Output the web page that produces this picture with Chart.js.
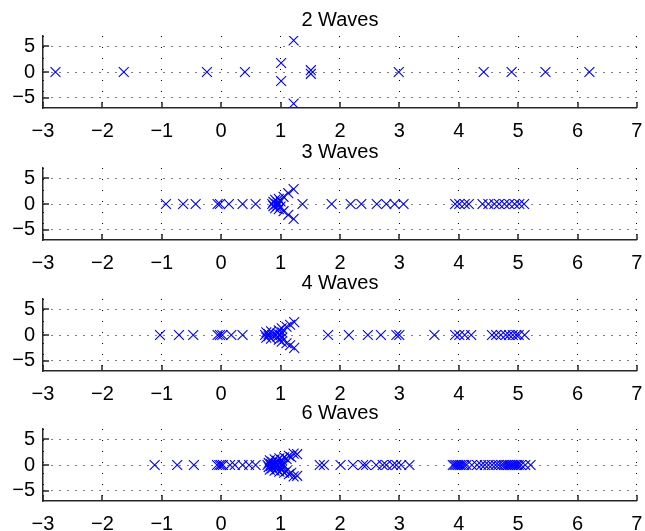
<!DOCTYPE html>
<html>
<head>
<meta charset="utf-8">
<script src="https://cdn.jsdelivr.net/npm/chart.js@4.4.0/dist/chart.umd.min.js"></script>
<style>
  html, body { margin: 0; padding: 0; background: #fff; }
  #fig { position: relative; width: 645px; height: 531px; overflow: hidden; }
  #fig canvas { position: absolute; left: 0; }
</style>
</head>
<body>
<div id="fig"></div>
<script>
// Axis ticks shared by every panel
const xTicks = [-3, -2, -1, 0, 1, 2, 3, 4, 5, 6, 7];
const yTicks = [-5, 0, 5];
const panelTitles = ['2 Waves', '3 Waves', '4 Waves', '6 Waves'];

// Roots for each case: real part (x) and imaginary part (y)
const waves2Re = [-2.79, -1.64, -0.24, 0.40, 1.01, 1.01, 1.22, 1.22, 1.51, 1.51, 2.99, 4.42, 4.89, 5.46, 6.20];
const waves2Im = [0, 0, 0, 0, 1.75, -1.75, 6.15, -6.15, 0.35, -0.35, 0, 0, 0, 0, 0];

const waves3Re = [-0.93, -0.64, -0.43, -0.06, -0.02, 0.13, 0.36, 0.58,
  0.86, 0.88, 0.88, 0.91, 0.91, 0.93, 0.95, 0.95, 0.97, 0.97, 1.00, 1.00,
  1.05, 1.05, 1.13, 1.13, 1.22, 1.22,
  1.37, 1.86, 2.18, 2.36, 2.62, 2.78, 2.92, 3.07,
  3.94, 4.01, 4.10, 4.17, 4.40, 4.50, 4.60, 4.68, 4.77, 4.85, 4.94, 5.02, 5.10];
const waves3Im = [0, 0, 0, 0, 0, 0, 0, 0,
  0, 0.4, -0.4, 0.8, -0.8, 0, 0.3, -0.3, 1.0, -1.0, 0.5, -0.5,
  1.4, -1.4, 2.1, -2.1, 2.9, -2.9,
  0, 0, 0, 0, 0, 0, 0, 0,
  0, 0, 0, 0, 0, 0, 0, 0, 0, 0, 0, 0, 0];

const waves4Re = [-1.03, -0.71, -0.47, -0.06, -0.02, 0.02, 0.17, 0.36,
  0.74, 0.76, 0.76, 0.80, 0.80, 0.84, 0.84, 0.86,
  0.95, 0.95, 0.97, 0.97, 1.00, 1.02, 1.02, 1.03, 1.03,
  1.10, 1.10, 1.16, 1.16, 1.23, 1.23,
  1.80, 2.15, 2.47, 2.69, 2.95, 3.00, 3.59,
  3.94, 4.01, 4.10, 4.21, 4.56, 4.63, 4.71, 4.79, 4.85, 4.91, 4.97, 5.01, 5.11];
const waves4Im = [0, 0, 0, 0, 0, 0, 0, 0,
  0, 0.5, -0.5, 0.2, -0.2, 0.7, -0.7, 0,
  0.3, -0.3, 0.9, -0.9, 0, 1.3, -1.3, 0.5, -0.5,
  1.6, -1.6, 2.0, -2.0, 2.5, -2.5,
  0, 0, 0, 0, 0, 0, 0,
  0, 0, 0, 0, 0, 0, 0, 0, 0, 0, 0, 0, 0];

const waves6Re = [-1.12, -0.74, -0.46, -0.07, -0.03, 0.00, 0.03, 0.15, 0.23, 0.36, 0.47, 0.58,
  0.78, 0.80, 0.80, 0.82, 0.82, 0.84, 0.84, 0.86, 0.86, 0.88, 0.90, 0.90, 0.92, 0.92,
  0.94, 0.94, 0.96, 0.98, 0.98, 1.00, 1.00, 1.02, 1.02, 1.04, 1.04, 1.06, 1.06,
  1.10, 1.10, 1.14, 1.14, 1.18, 1.18, 1.22, 1.22, 1.28, 1.28,
  1.66, 1.73, 2.01, 2.22, 2.39, 2.44, 2.61, 2.72, 2.78, 2.89, 2.95, 3.03, 3.17,
  3.90, 3.93, 3.96, 3.99, 4.02, 4.05, 4.09, 4.13, 4.22, 4.31, 4.38, 4.44, 4.50, 4.56,
  4.62, 4.67, 4.72, 4.76, 4.80, 4.83, 4.86, 4.89, 4.92, 4.95, 4.98, 5.01, 5.05, 5.12, 5.21];
const waves6Im = [0, 0, 0, 0, 0, 0, 0, 0, 0, 0, 0, 0,
  0, 0.4, -0.4, 0.9, -0.9, 0.2, -0.2, 0.6, -0.6, 0, 1.1, -1.1, 0.35, -0.35,
  0.8, -0.8, 0, 1.3, -1.3, 0.5, -0.5, 1.0, -1.0, 0.15, -0.15, 1.5, -1.5,
  1.2, -1.2, 1.8, -1.8, 1.5, -1.5, 2.2, -2.2, 2.1, -2.1,
  0, 0, 0, 0, 0, 0, 0, 0, 0, 0, 0, 0, 0,
  0, 0, 0, 0, 0, 0, 0, 0, 0, 0, 0, 0, 0, 0,
  0, 0, 0, 0, 0, 0, 0, 0, 0, 0, 0, 0, 0, 0, 0];

const panelRe = [waves2Re, waves3Re, waves4Re, waves6Re];
const panelIm = [waves2Im, waves3Im, waves4Im, waves6Im];

// Panel placement in the figure
const panelTops = [0, 132, 263, 393];
const panelHeight = 138;
const FONT = '"Liberation Sans", Arial, Helvetica, sans-serif';
const AXIS_COLOR = '#262626';

const fmt = v => (v < 0 ? '\u2212' + Math.abs(v) : String(v));

// Short tick marks pointing into the plot, as on a classic axes box
const inwardTicks = {
  id: 'inwardTicks',
  afterDraw(chart) {
    const { ctx, chartArea: a, scales: { x, y } } = chart;
    ctx.save();
    ctx.strokeStyle = AXIS_COLOR;
    ctx.lineWidth = 1.5;
    ctx.beginPath();
    xTicks.forEach(v => {
      const px = Math.round(x.getPixelForValue(v));
      ctx.moveTo(px, a.bottom);
      ctx.lineTo(px, a.bottom - 6);
    });
    yTicks.forEach(v => {
      const py = Math.round(y.getPixelForValue(v));
      ctx.moveTo(a.left, py);
      ctx.lineTo(a.left + 6, py);
    });
    ctx.stroke();
    ctx.restore();
  }
};

const fig = document.getElementById('fig');

panelTitles.forEach((title, p) => {
  const canvas = document.createElement('canvas');
  canvas.width = 645;
  canvas.height = panelHeight;
  canvas.style.width = '645px';
  canvas.style.height = panelHeight + 'px';
  canvas.style.top = panelTops[p] + 'px';
  fig.appendChild(canvas);

  const re = panelRe[p];
  const im = panelIm[p];

  new Chart(canvas, {
    type: 'scatter',
    data: {
      datasets: [{
        data: re.map((x, i) => ({ x: x, y: im[i] })),
        pointStyle: 'crossRot',
        radius: 7,
        hoverRadius: 7,
        borderColor: '#0000ff',
        backgroundColor: '#0000ff',
        borderWidth: 1.1
      }]
    },
    options: {
      responsive: false,
      animation: false,
      devicePixelRatio: 1,
      events: [],
      layout: { padding: { left: 0, right: 7, top: 0, bottom: 0 } },
      plugins: {
        legend: { display: false },
        tooltip: { enabled: false },
        title: {
          display: true,
          text: title,
          fullSize: false,
          color: '#000',
          font: { family: FONT, size: 20, weight: 'normal', lineHeight: 1.2 },
          padding: { top: 8, bottom: 4 }
        }
      },
      scales: {
        x: {
          type: 'linear',
          min: -3,
          max: 7,
          afterBuildTicks: s => { s.ticks = xTicks.map(v => ({ value: v })); },
          afterFit: s => { s.height = 30; s.paddingLeft = 0; s.paddingRight = 0; },
          grid: { color: '#000', lineWidth: 1, drawTicks: false },
          border: { display: true, color: AXIS_COLOR, width: 1.5, dash: [1, 10] },
          ticks: {
            padding: 11,
            color: '#000',
            maxRotation: 0,
            autoSkip: false,
            font: { family: FONT, size: 20 },
            callback: v => fmt(v)
          }
        },
        y: {
          type: 'linear',
          min: -7,
          max: 7,
          afterBuildTicks: s => { s.ticks = yTicks.map(v => ({ value: v })); },
          afterFit: s => { s.width = 43; s.paddingTop = 0; s.paddingBottom = 0; },
          grid: { color: '#000', lineWidth: 1, drawTicks: false },
          border: { display: true, color: AXIS_COLOR, width: 1.5, dash: [1, 7] },
          ticks: {
            padding: 8,
            color: '#000',
            font: { family: FONT, size: 20 },
            callback: v => fmt(v)
          }
        }
      }
    },
    plugins: [inwardTicks]
  });
});
</script>
</body>
</html>
